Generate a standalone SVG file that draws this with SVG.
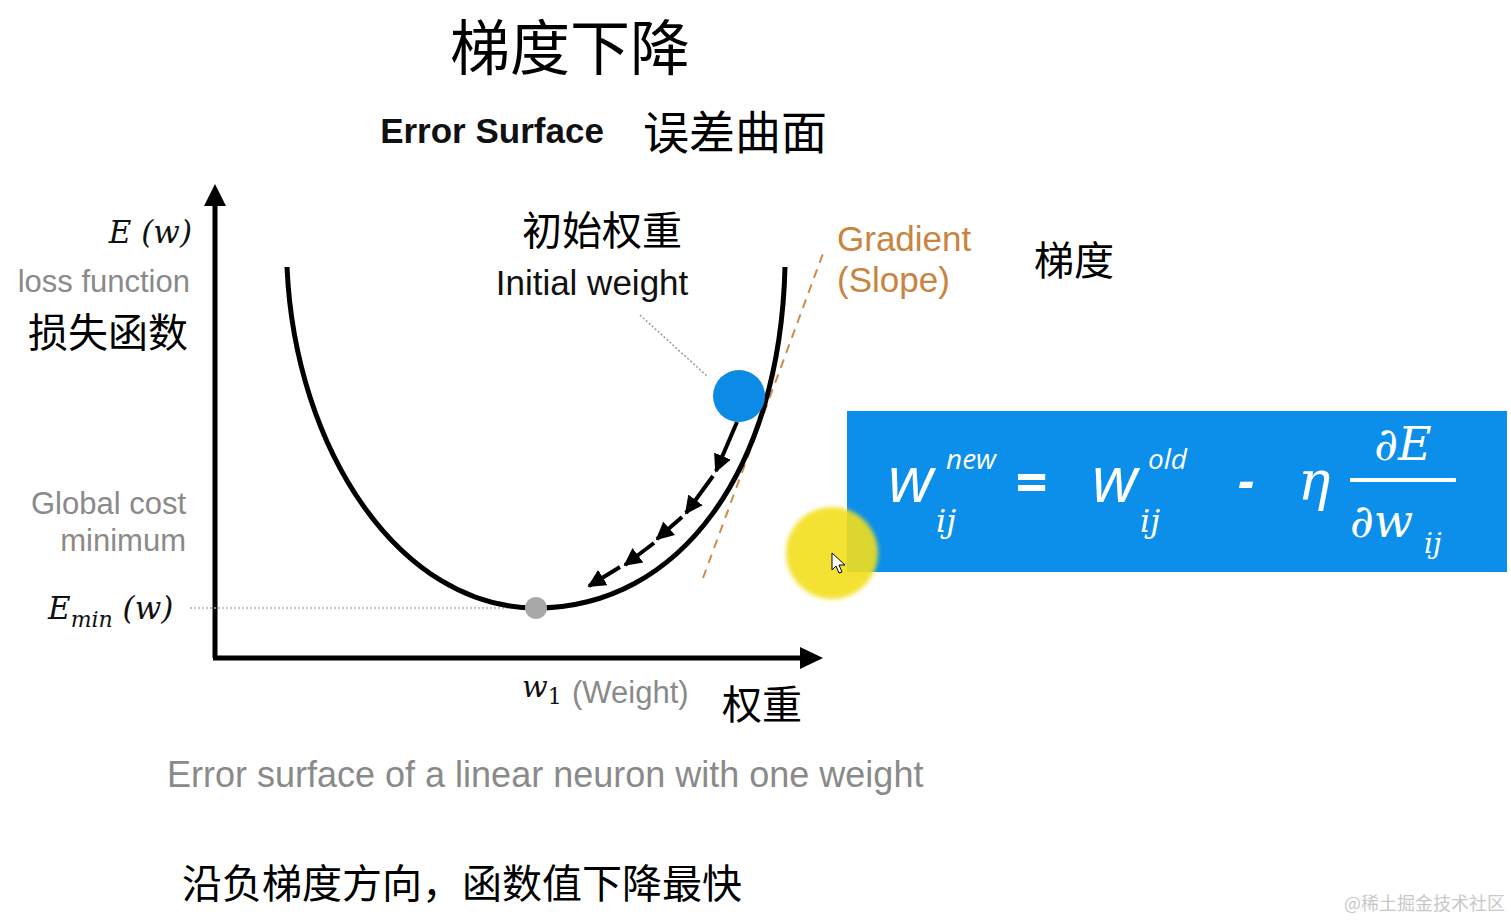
<svg xmlns="http://www.w3.org/2000/svg" width="1511" height="920" viewBox="0 0 1511 920">
<style>
.cn{font-family:"Noto Sans CJK SC","Noto Sans",sans-serif;fill:#000}
.en{font-family:"Liberation Sans",Arial,sans-serif}
.gray{fill:#8a8a8a}
.math{font-family:"DejaVu Serif","Liberation Serif",serif;font-style:italic;fill:#111}
.fw{font-family:"Open Sans","DejaVu Sans",sans-serif;font-style:italic;fill:#fff}
.fs{font-family:"DejaVu Serif","Liberation Serif",serif;font-style:italic;fill:#fff}
</style>
<defs>
<marker id="ah" viewBox="0 0 10 10" refX="9" refY="5" markerWidth="4.5" markerHeight="4.5" orient="auto"><path d="M0,0 L10,5 L0,10 z" fill="#000"/></marker>
<filter id="blur"><feGaussianBlur stdDeviation="2"/></filter>
</defs>
<rect width="1511" height="920" fill="#fff"/>
<g id="title">
<text class="cn" x="570" y="70" font-size="60" text-anchor="middle">梯度下降</text>
<text class="en" x="492" y="143" font-size="35" font-weight="bold" text-anchor="middle" fill="#111">Error Surface</text>
<text class="cn" x="735" y="149" font-size="46" text-anchor="middle">误差曲面</text>
</g>
<g id="axes">
<line x1="215" y1="658" x2="215" y2="200" stroke="#000" stroke-width="5"/>
<polygon points="215,184 204,206 226,206" fill="#000"/>
<line x1="213" y1="658" x2="805" y2="658" stroke="#000" stroke-width="5"/>
<polygon points="823,658 800,647 800,669" fill="#000"/>
</g>
<g id="connectors">
<line x1="190" y1="608" x2="527" y2="608" stroke="#c9a9a9" stroke-width="1.5" stroke-dasharray="2,2"/>
<line x1="640" y1="315" x2="708" y2="377" stroke="#999" stroke-width="1.5" stroke-dasharray="2,2"/>
<line x1="703" y1="578" x2="825" y2="248" stroke="#d08a4a" stroke-width="2" stroke-dasharray="9,7"/>
<path d="M287,267 C295,450 400,608 536,608 C680,608 780,470 785,267" fill="none" stroke="#000" stroke-width="5"/>
<g stroke="#000" stroke-width="4" marker-end="url(#ah)">
<line x1="737" y1="422" x2="716" y2="471"/>
<line x1="713" y1="476" x2="686" y2="513"/>
<line x1="682" y1="517" x2="657" y2="539"/>
<line x1="654" y1="543" x2="625" y2="565"/>
<line x1="620" y1="567" x2="589" y2="586"/>
</g>
</g>
<g id="initial-weight">
<circle cx="739" cy="396" r="26" fill="#0b8ae6"/>
<text class="cn" x="602" y="245" font-size="40" text-anchor="middle">初始权重</text>
<text class="en" x="592" y="295" font-size="35" text-anchor="middle" fill="#111">Initial weight</text>
</g>
<g id="minimum">
<circle cx="536" cy="608" r="11" fill="#a8a8a8"/>
</g>
<g id="gradient-label">
<text class="en" x="837" y="251" font-size="35" fill="#c98440">Gradient</text>
<text class="en" x="837" y="292" font-size="35" fill="#c98440">(Slope)</text>
<text class="cn" x="1074" y="275" font-size="40" text-anchor="middle">梯度</text>
</g>
<g id="y-labels">
<text class="math" x="192" y="243" font-size="31" text-anchor="end">E (w)</text>
<text class="en gray" x="190" y="292" font-size="31" text-anchor="end">loss function</text>
<text class="cn" x="188" y="347" font-size="40" text-anchor="end">损失函数</text>
<text class="en gray" x="186" y="514" font-size="31" text-anchor="end">Global cost</text>
<text class="en gray" x="186" y="551" font-size="31" text-anchor="end">minimum</text>
<text class="math" x="48" y="619" font-size="31">E<tspan font-size="22" dy="8">min</tspan><tspan dy="-8"> (w)</tspan></text>
</g>
<g id="x-labels">
<text class="math" x="522" y="697" font-size="30">w<tspan font-style="normal" font-size="22" dy="7">1</tspan></text>
<text class="en gray" x="572" y="703" font-size="31">(Weight)</text>
<text class="cn" x="762" y="719" font-size="40" text-anchor="middle">权重</text>
</g>
<g id="formula">
<rect x="847" y="411" width="660" height="161" fill="#0b8fea"/>
<text class="fw" x="888" y="502" font-size="64">w</text>
<text class="fw" x="946" y="469" font-size="28">new</text>
<text class="fs" x="936" y="532" font-size="32">ij</text>
<text class="fw" x="1031" y="502" font-size="56" font-style="normal" font-weight="bold" text-anchor="middle">=</text>
<text class="fw" x="1092" y="502" font-size="64">w</text>
<text class="fw" x="1148" y="469" font-size="28">old</text>
<text class="fs" x="1140" y="532" font-size="32">ij</text>
<text class="fw" x="1246" y="498" font-size="50" font-style="normal" font-weight="bold" text-anchor="middle">-</text>
<text class="fs" x="1298" y="500" font-size="54">η</text>
<text class="fs" x="1403" y="460" font-size="46" text-anchor="middle">∂E</text>
<line x1="1350" y1="480" x2="1456" y2="480" stroke="#fff" stroke-width="4"/>
<text class="fs" x="1350" y="537" font-size="46">∂w</text>
<text class="fs" x="1424" y="553" font-size="28">ij</text>
</g>
<g id="cursor">
<circle cx="832" cy="553" r="46" fill="#f3df1e" opacity="0.9" filter="url(#blur)"/>
<path d="M832,553 L832,570 L836,566 L839,573 L842,572 L839,565 L845,565 z" fill="#fff" stroke="#000" stroke-width="1"/>
</g>
<g id="captions">
<text class="en gray" x="167" y="787" font-size="36">Error surface of a linear neuron with one weight</text>
<text class="cn" x="182" y="898" font-size="40">沿负梯度方向，函数值下降最快</text>
<text class="cn" x="1505" y="910" font-size="18" text-anchor="end" style="fill:#c8c8c8">@稀土掘金技术社区</text>
</g>
</svg>
